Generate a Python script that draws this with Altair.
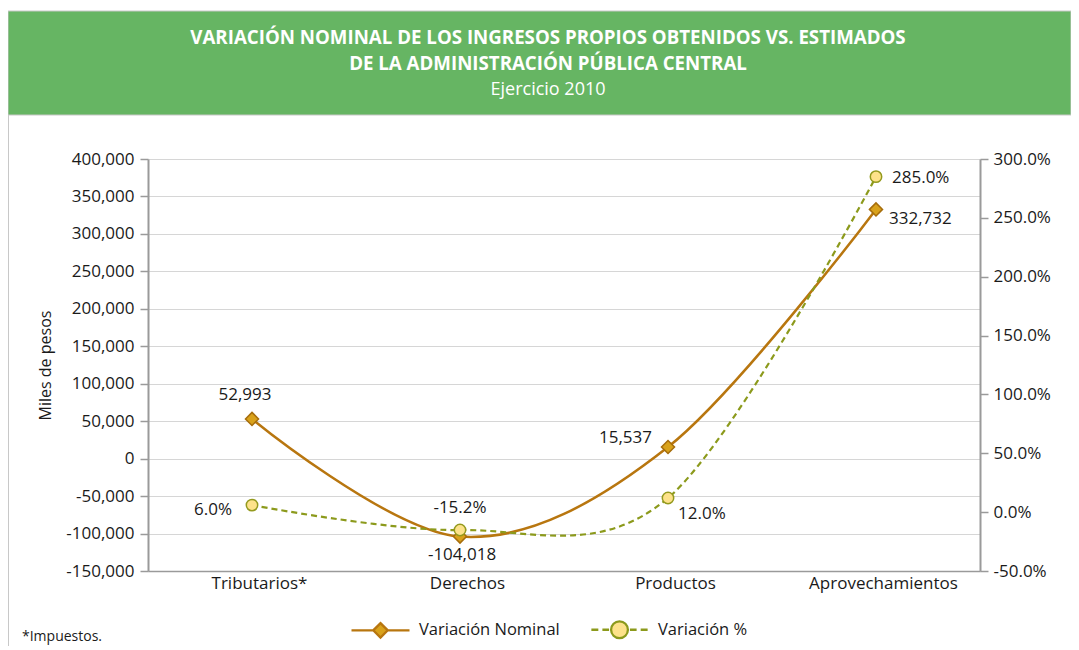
import altair as alt
import pandas as pd

# ---------------- data ----------------
categories = ["Tributarios*", "Derechos", "Productos", "Aprovechamientos"]
nominal = [52993, -104018, 15537, 332732]
percent = [6.0, -15.2, 12.0, 285.0]
series_names = ["Variación Nominal", "Variación %"]
left_ticks = [-150000, -100000, -50000, 0, 50000, 100000, 150000, 200000, 250000, 300000, 350000, 400000]
right_ticks = [-50, 0, 50, 100, 150, 200, 250, 300]
title_lines = ["VARIACIÓN NOMINAL DE LOS INGRESOS PROPIOS OBTENIDOS VS. ESTIMADOS",
               "DE LA ADMINISTRACIÓN PÚBLICA CENTRAL"]
subtitle = "Ejercicio 2010"
footnote = "*Impuestos."
y_title = "Miles de pesos"

df = pd.DataFrame({"cat": categories, "nom": nominal, "pct": percent})
df["nom_lbl"] = [f"{v:,}" for v in nominal]
df["pct_lbl"] = [f"{v:.1f}%" for v in percent]

# ---------------- styles ----------------
W, H = 832, 412
FONT = "Open Sans"
TXT = "#1a1a1a"
NOM_LINE = "#B8760F"
NOM_FILL = "#D9A21B"
NOM_EDGE = "#A66D0C"
PCT_LINE = "#8C9A1C"
PCT_FILL = "#FDE28A"
PCT_EDGE = "#949A1E"
AXIS_GRAY = "#9A9A9A"
GRID = "#D6D6D6"
GREEN = "#66B563"
MINUS = "\u2212"
FS = 17

# label offsets (dx, dy, align) per category
nom_pos = {"Tributarios*": (-7, -24, "center"), "Derechos": (2, 18, "center"),
           "Productos": (-16, -9, "right"), "Aprovechamientos": (13, 10, "left")}
pct_pos = {"Tributarios*": (-20, 5, "right"), "Derechos": (0, -22, "center"),
           "Productos": (10, 16, "left"), "Aprovechamientos": (16, 1, "left")}

x_enc = alt.X("cat:N", sort=categories,
              scale=alt.Scale(type="point", padding=0.5),
              axis=alt.Axis(title=None, labelFontSize=FS, labelColor=TXT, labelPadding=4,
                            labelOffset=7, ticks=False, domainColor=AXIS_GRAY, domainWidth=1.5,
                            labelAngle=0, grid=False))

y_left = alt.Y("nom:Q",
               scale=alt.Scale(domain=[-150000, 400000], nice=False, zero=False),
               axis=alt.Axis(orient="left", values=left_ticks,
                             labelExpr=f"replace(format(datum.value, ','), '{MINUS}', '-')",
                             title=y_title, titleFontSize=16, titleFontWeight="normal",
                             titleColor=TXT, titlePadding=12, titleFont=FONT,
                             labelFontSize=FS, labelColor=TXT, labelPadding=6,
                             tickSize=8, tickColor=AXIS_GRAY, tickWidth=1.5,
                             domainColor=AXIS_GRAY, domainWidth=2,
                             grid=True, gridColor=GRID, gridWidth=1))

y_right = alt.Y("pct:Q",
                scale=alt.Scale(domain=[-50, 300], nice=False, zero=False),
                axis=alt.Axis(orient="right", values=right_ticks,
                              labelExpr=f"replace(format(datum.value, '.1f'), '{MINUS}', '-') + '%'",
                              title=None, labelFontSize=FS, labelColor=TXT, labelPadding=5,
                              tickSize=8, tickColor=AXIS_GRAY, tickWidth=1.5,
                              domainColor=AXIS_GRAY, domainWidth=2, grid=False))

base = alt.Chart(df)

# ---- nominal group (left axis)
nom_line = base.mark_line(interpolate="cardinal", tension=0, color=NOM_LINE, strokeWidth=2.5).encode(x=x_enc, y=y_left)
nom_pts = base.mark_point(shape="diamond", filled=True, fill=NOM_FILL, stroke=NOM_EDGE,
                          strokeWidth=1.5, size=170, opacity=1).encode(x=x_enc, y=y_left)
nom_txt = [
    base.transform_filter(alt.datum.cat == c).mark_text(
        dx=p[0], dy=p[1], align=p[2], baseline="middle", fontSize=FS, color=TXT, font=FONT
    ).encode(x=x_enc, y=y_left, text="nom_lbl:N")
    for c, p in nom_pos.items()
]
left_group = alt.layer(nom_line, nom_pts, *nom_txt)

# ---- percent group (right axis)
pct_line = base.mark_line(interpolate="cardinal", tension=0, color=PCT_LINE, strokeWidth=2.2,
                          strokeDash=[6, 4]).encode(x=x_enc, y=y_right)
pct_pts = base.mark_point(shape="circle", filled=True, fill=PCT_FILL, stroke=PCT_EDGE,
                          strokeWidth=1.5, size=130, opacity=1).encode(x=x_enc, y=y_right)
pct_txt = [
    base.transform_filter(alt.datum.cat == c).mark_text(
        dx=p[0], dy=p[1], align=p[2], baseline="middle", fontSize=FS, color=TXT, font=FONT
    ).encode(x=x_enc, y=y_right, text="pct_lbl:N")
    for c, p in pct_pos.items()
]
right_group = alt.layer(pct_line, pct_pts, *pct_txt)

# ---- header band
one = pd.DataFrame({"k": [0]})
header_rect = alt.Chart(one).mark_rect(fill=GREEN, stroke="#C8C8C8", strokeWidth=1).encode(
    x=alt.value(-140), x2=alt.value(923), y=alt.value(-148), y2=alt.value(-44))
t1 = alt.Chart(pd.DataFrame({"t": [title_lines[0]]})).mark_text(
    fontSize=18.7, fontWeight="bold", color="white", align="center", baseline="alphabetic", font=FONT
).encode(x=alt.value(400), y=alt.value(-115), text="t:N")
t2 = alt.Chart(pd.DataFrame({"t": [title_lines[1]]})).mark_text(
    fontSize=18.7, fontWeight="bold", color="white", align="center", baseline="alphabetic", font=FONT
).encode(x=alt.value(400), y=alt.value(-89), text="t:N")
t3 = alt.Chart(pd.DataFrame({"t": [subtitle]})).mark_text(
    fontSize=18, color="white", align="center", baseline="alphabetic", font=FONT
).encode(x=alt.value(400), y=alt.value(-64), text="t:N")
left_border = alt.Chart(one).mark_rule(color="#C8C8C8", strokeWidth=1).encode(
    x=alt.value(-139.5), y=alt.value(-44), y2=alt.value(490))
note = alt.Chart(pd.DataFrame({"t": [footnote]})).mark_text(
    fontSize=14, color=TXT, align="left", baseline="alphabetic", font=FONT
).encode(x=alt.value(-126), y=alt.value(482), text="t:N")

# ---- legend (invisible marks, custom symbols)
SYM_NOM = "M-1,0H-0.24M0.24,0H1M0,-0.25L0.25,0L0,0.25L-0.25,0Z"
SYM_PCT = ("M-0.97,0H-0.73M-0.59,0H-0.36M0.36,0H0.59M0.73,0H0.97"
           "M0.29,0A0.29,0.29,0,1,1,-0.29,0A0.29,0.29,0,1,1,0.29,0Z")
LEG = alt.Legend(title=None, orient="none", legendX=202, legendY=440, direction="horizontal",
                 symbolSize=3364, symbolStrokeWidth=2.3, symbolOpacity=1,
                 labelFontSize=16.5, labelColor=TXT, labelFont=FONT, labelOffset=8,
                 columnPadding=26, padding=0)
legend_df = pd.DataFrame({"serie": series_names})
legend_layer = alt.Chart(legend_df).mark_point(opacity=0).encode(
    shape=alt.Shape("serie:N", sort=series_names,
                    scale=alt.Scale(domain=series_names, range=[SYM_NOM, SYM_PCT]), legend=LEG),
    stroke=alt.Stroke("serie:N", sort=series_names,
                      scale=alt.Scale(domain=series_names, range=[NOM_LINE, PCT_LINE]), legend=LEG),
    fill=alt.Fill("serie:N", sort=series_names,
                  scale=alt.Scale(domain=series_names, range=[NOM_FILL, PCT_FILL]), legend=LEG),
)

chart = alt.layer(
    header_rect, t1, t2, t3, left_border, note,
    left_group, right_group, legend_layer
).resolve_scale(y="independent").properties(
    width=W, height=H,
    padding={"left": 140, "top": 151, "right": 91, "bottom": 75},
    autosize=alt.AutoSizeParams(type="none"),
).configure(font=FONT).configure_view(stroke="transparent")

chart.save("out.html", embed_options={"renderer": "svg", "actions": False})
